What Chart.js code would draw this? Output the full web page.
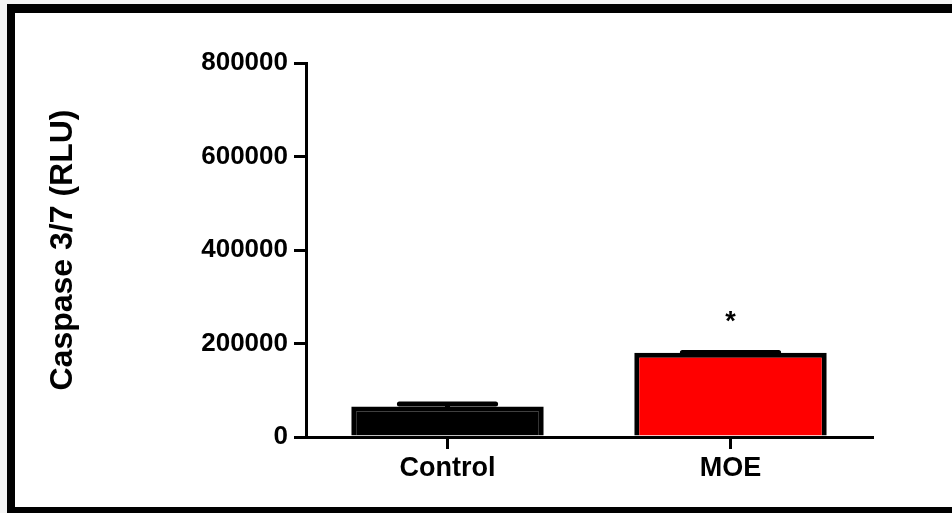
<!DOCTYPE html>
<html>
<head>
<meta charset="utf-8">
<script src="https://cdn.jsdelivr.net/npm/chart.js@4/dist/chart.umd.min.js"></script>
<style>
  html, body { margin: 0; padding: 0; background: #f4f4f4; }
  #wrap { position: absolute; left: 0; top: 0; width: 952px; height: 513px; }
</style>
</head>
<body>
<div id="wrap"><canvas id="barChart" width="952" height="513"></canvas></div>
<script>
const categories = ['Control', 'MOE'];
const caspaseValues = [65000, 180000];
const errorUpper = [70500, 181000];
const significance = ['', '*'];
const yTicks = [0, 200000, 400000, 600000, 800000];

// frame + error bars + asterisk
const extrasPlugin = {
  id: 'extras',
  beforeDraw(chart) {
    const ctx = chart.ctx;
    ctx.save();
    ctx.fillStyle = '#ffffff';
    ctx.fillRect(7, 4, 945, 509);
    ctx.fillStyle = '#000000';
    ctx.fillRect(7, 4, 945, 9);   // top
    ctx.fillRect(7, 4, 8, 509);   // left
    ctx.fillRect(7, 507, 945, 6); // bottom
    ctx.restore();
  },
  afterDatasetsDraw(chart) {
    const ctx = chart.ctx;
    const meta = chart.getDatasetMeta(0);
    const y = chart.scales.y;
    ctx.save();
    ctx.strokeStyle = '#000';
    ctx.lineWidth = 5;
    ctx.lineCap = 'round';
    meta.data.forEach((bar, i) => {
      const half = bar.width * 0.25;
      const yTop = y.getPixelForValue(errorUpper[i]);
      const yVal = y.getPixelForValue(caspaseValues[i]);
      ctx.beginPath();
      ctx.moveTo(bar.x, yVal);
      ctx.lineTo(bar.x, yTop);
      ctx.moveTo(bar.x - half, yTop);
      ctx.lineTo(bar.x + half, yTop);
      ctx.stroke();
      if (significance[i]) {
        ctx.fillStyle = '#000';
        ctx.font = 'bold 27px "Liberation Sans", Arial, sans-serif';
        ctx.textAlign = 'center';
        ctx.textBaseline = 'middle';
        ctx.fillText(significance[i], bar.x, yTop - 30);
      }
    });
    ctx.restore();
  }
};

const fontFamily = '"Liberation Sans", Arial, sans-serif';
const ctx = document.getElementById('barChart').getContext('2d');
new Chart(ctx, {
  type: 'bar',
  data: {
    labels: categories,
    datasets: [{
      data: caspaseValues,
      backgroundColor: ['#000000', '#ff0000'],
      borderColor: '#000000',
      borderWidth: 5,
      borderSkipped: 'bottom',
      categoryPercentage: 1,
      barPercentage: 0.68
    }]
  },
  options: {
    responsive: false,
    animation: false,
    layout: { padding: { left: 0, right: 80, top: 63, bottom: 0 } },
    plugins: { legend: { display: false }, tooltip: { enabled: false } },
    scales: {
      x: {
        offset: true,
        grid: { offset: false, drawOnChartArea: false, drawTicks: true, tickLength: 12, color: '#000', lineWidth: 3 },
        border: { color: '#000', width: 3 },
        ticks: { color: '#000', padding: 3, font: { family: fontFamily, size: 27, weight: 'bold' } },
        afterFit(scale) { scale.height = 76; }
      },
      y: {
        min: 0,
        max: 800000,
        afterBuildTicks(scale) { scale.ticks = yTicks.map(v => ({ value: v })); },
        grid: { drawOnChartArea: false, drawTicks: true, tickLength: 12, color: '#000', lineWidth: 3 },
        border: { color: '#000', width: 3 },
        ticks: {
          color: '#000',
          padding: 6,
          font: { family: fontFamily, size: 26, weight: 'bold' },
          callback: v => String(v)
        },
        title: {
          display: true,
          text: 'Caspase 3/7 (RLU)',
          color: '#000',
          padding: { top: 44, bottom: 0 },
          font: { family: fontFamily, size: 32, weight: 'bold' }
        },
        afterFit(scale) { scale.width = 306; }
      }
    }
  },
  plugins: [extrasPlugin]
});
</script>
</body>
</html>
